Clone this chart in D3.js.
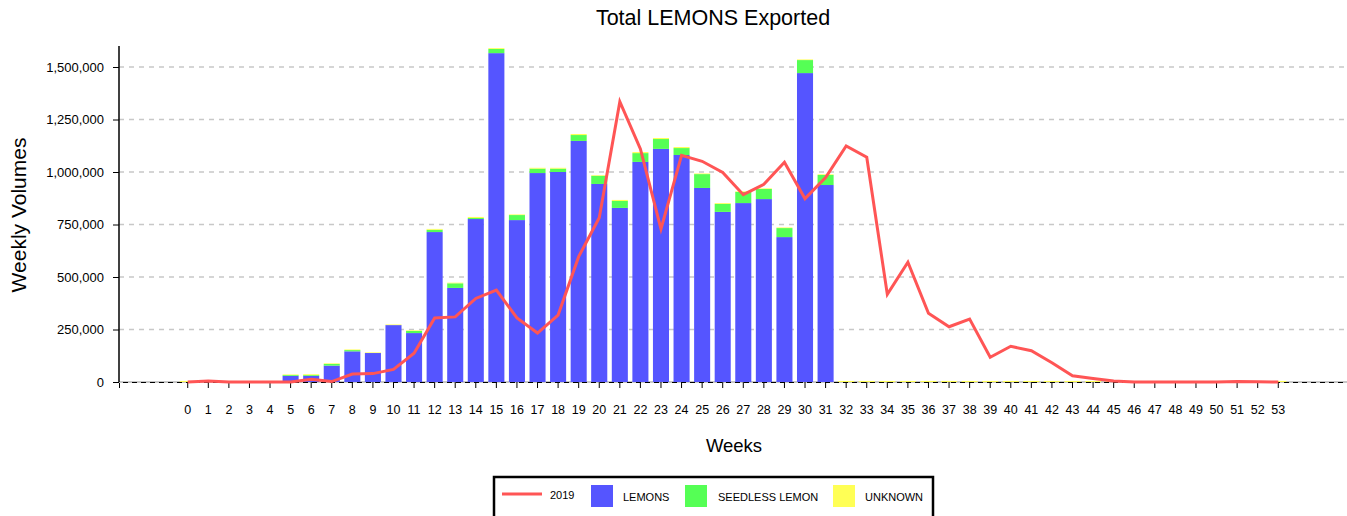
<!DOCTYPE html>
<html lang="en">
<head>
  <meta charset="UTF-8">
  <title>Total LEMONS Exported</title>
  <style>
    body { margin: 0; background: #fff; }
    svg text { font-family: "Liberation Sans", Arial, sans-serif; fill: #000; }
    .grid line { stroke: #c8c8c8; stroke-width: 1.5; stroke-dasharray: 5,5; }
    .y-axis text { font-size: 13px; }
    .x-axis text { font-size: 12.5px; }
  </style>
</head>
<body>
  <div id="chart"></div>
  <script src="https://d3js.org/d3.v7.min.js"></script>
  <script>
    const weeks = d3.range(0, 54);
    const yTicks = [0, 250000, 500000, 750000, 1000000, 1250000, 1500000];

    // 2019 line
    const line2019 = [0, 5000, 0, 0, 0, 0, 13000, 2000, 38000, 40000,
      60000, 137000, 305000, 310000, 398000, 438000, 305000, 233000, 319000, 597000,
      782000, 1335000, 1110000, 729000, 1079000, 1051000, 998000, 892000, 941000, 1046000,
      873000, 973000, 1124000, 1070000, 417000, 570000, 327000, 263000, 300000, 118000,
      170000, 149000, 92000, 30000, 17000, 5000, 0, 0, 0, 0,
      0, 2000, 1000, 0];

    const lemons = [0, 0, 0, 0, 0, 29000, 29000, 78000, 146000, 138000,
      271000, 233000, 714000, 448000, 776000, 1566000, 771000, 995000, 1000000, 1148000,
      943000, 829000, 1048000, 1110000, 1081000, 924000, 810000, 852000, 871000, 690000,
      1471000, 938000, 0, 0, 0, 0, 0, 0, 0, 0,
      0, 0, 0, 0, 0, 0, 0, 0, 0, 0,
      0, 0, 0, 0];

    const seedless = [0, 0, 0, 0, 0, 4000, 4000, 8000, 6000, 0,
      0, 10000, 11000, 22000, 5000, 20000, 24000, 21000, 16000, 28000,
      39000, 33000, 42000, 47000, 33000, 66000, 38000, 53000, 48000, 43000,
      62000, 48000, 0, 0, 0, 0, 0, 0, 0, 0,
      0, 0, 0, 0, 0, 0, 0, 0, 0, 0,
      0, 0, 0, 0];

    const unknown = [5000, 5000, 5000, 5000, 5000, 3000, 4000, 3000, 3000, 3000,
      3000, 3000, 4000, 3000, 5000, 4000, 3000, 4000, 4000, 5000,
      3000, 5000, 5000, 5000, 5000, 3000, 4000, 3000, 3000, 3000,
      3000, 3000, 5000, 5000, 5000, 5000, 5000, 5000, 5000, 5000,
      5000, 5000, 5000, 5000, 5000, 5000, 5000, 5000, 5000, 5000,
      5000, 5000, 5000, 5000];

    const seriesNames = ['LEMONS', 'SEEDLESS LEMON', 'UNKNOWN'];
    const colors = { 'LEMONS': '#5555ff', 'SEEDLESS LEMON': '#55ff55', 'UNKNOWN': '#ffff55' };
    const lineColor = '#ff5555';

    const width = 1347;
    const height = 516;
    const margin = { top: 46, right: 0, bottom: 134, left: 119 };

    const svg = d3.select('#chart')
      .append('svg')
      .attr('width', width)
      .attr('height', height);

    const table = weeks.map((w, i) => ({
      week: w,
      'LEMONS': lemons[i],
      'SEEDLESS LEMON': seedless[i],
      'UNKNOWN': unknown[i]
    }));

    const xScale = d3.scaleBand()
      .domain(weeks)
      .range([margin.left, width - margin.right])
      .paddingInner(0.22)
      .paddingOuter(2.95);

    const yScale = d3.scaleLinear()
      .domain([0, 1600000])
      .range([height - margin.bottom, margin.top]);

    const baseY = yScale(0);

    // grid
    svg.append('g')
      .attr('class', 'grid')
      .selectAll('line')
      .data(yTicks.filter(d => d > 0))
      .enter()
      .append('line')
      .attr('x1', margin.left)
      .attr('x2', width - margin.right)
      .attr('y1', d => yScale(d))
      .attr('y2', d => yScale(d));

    // zero line
    svg.append('line')
      .attr('x1', margin.left)
      .attr('x2', width - margin.right)
      .attr('y1', baseY)
      .attr('y2', baseY)
      .attr('stroke', '#c8c8c8')
      .attr('stroke-width', 2);

    // stacked bars
    const stacked = d3.stack().keys(seriesNames)(table);

    svg.append('g')
      .selectAll('g')
      .data(stacked)
      .enter()
      .append('g')
      .attr('fill', d => colors[d.key])
      .selectAll('rect')
      .data(d => d)
      .enter()
      .append('rect')
      .attr('x', d => xScale(d.data.week))
      .attr('width', xScale.bandwidth())
      .attr('y', d => yScale(d[1]))
      .attr('height', d => yScale(d[0]) - yScale(d[1]));

    // x axis
    const xAxis = svg.append('g')
      .attr('class', 'x-axis')
      .attr('transform', `translate(0, ${baseY})`)
      .call(d3.axisBottom(xScale).tickSize(6).tickPadding(17));
    xAxis.select('.domain')
      .attr('stroke', '#000')
      .attr('stroke-width', 1)
      .attr('stroke-dasharray', '5,4');
    xAxis.selectAll('.tick line').attr('stroke', '#000');

    // 2019 line
    const line = d3.line()
      .x((d, i) => xScale(weeks[i]) + xScale.bandwidth() / 2)
      .y(d => yScale(d));

    svg.append('path')
      .datum(line2019)
      .attr('fill', 'none')
      .attr('stroke', lineColor)
      .attr('stroke-width', 3)
      .attr('stroke-linejoin', 'miter')
      .attr('d', line);

    // y axis
    const yAxis = svg.append('g')
      .attr('class', 'y-axis')
      .attr('transform', `translate(${margin.left}, 0)`)
      .call(d3.axisLeft(yScale).tickValues(yTicks).tickFormat(d3.format(',')).tickSize(6).tickPadding(9));
    yAxis.select('.domain')
      .attr('d', `M0,${yScale(1600000)}V${baseY}`)
      .attr('stroke', '#000')
      .attr('stroke-width', 1.5);

    // titles
    svg.append('text')
      .attr('x', 713)
      .attr('y', 25)
      .attr('text-anchor', 'middle')
      .style('font-size', '21.5px')
      .text('Total LEMONS Exported');

    svg.append('text')
      .attr('transform', 'rotate(-90)')
      .attr('x', -215)
      .attr('y', 26)
      .attr('text-anchor', 'middle')
      .style('font-size', '21px')
      .text('Weekly Volumes');

    svg.append('text')
      .attr('x', 734)
      .attr('y', 452)
      .attr('text-anchor', 'middle')
      .style('font-size', '18.5px')
      .text('Weeks');

    // legend
    const legend = svg.append('g').attr('transform', 'translate(494, 477)');
    legend.append('rect')
      .attr('width', 439)
      .attr('height', 50)
      .attr('fill', '#fff')
      .attr('stroke', '#000')
      .attr('stroke-width', 2.5);

    legend.append('line')
      .attr('x1', 8).attr('x2', 48)
      .attr('y1', 17).attr('y2', 17)
      .attr('stroke', lineColor)
      .attr('stroke-width', 3);
    legend.append('text')
      .attr('x', 56).attr('y', 22)
      .style('font-size', '11px')
      .text('2019');

    const legendItems = [
      { name: 'LEMONS', x: 97, tx: 129 },
      { name: 'SEEDLESS LEMON', x: 191, tx: 224 },
      { name: 'UNKNOWN', x: 339, tx: 371 }
    ];
    legend.selectAll('.legend-box')
      .data(legendItems)
      .enter()
      .append('rect')
      .attr('class', 'legend-box')
      .attr('x', d => d.x)
      .attr('y', 8)
      .attr('width', 22)
      .attr('height', 22)
      .attr('fill', d => colors[d.name]);
    legend.selectAll('.legend-text')
      .data(legendItems)
      .enter()
      .append('text')
      .attr('class', 'legend-text')
      .attr('x', d => d.tx)
      .attr('y', 24)
      .style('font-size', '11px')
      .text(d => d.name);
  </script>
</body>
</html>
